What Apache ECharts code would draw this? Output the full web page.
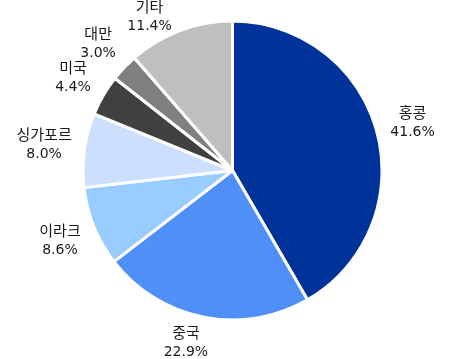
<!DOCTYPE html>
<html><head><meta charset="utf-8">
<script src="https://cdn.jsdelivr.net/npm/echarts@6/dist/echarts.min.js"></script>
<style>html,body{margin:0;padding:0;background:#fff}#c{width:449px;height:359px}</style>
</head><body><div id="c"></div>
<script>
const categories = ['홍콩','중국','이라크','싱가포르','미국','대만','기타'];
const values = [41.6, 22.9, 8.6, 8.0, 4.4, 3.0, 11.4];
const colors = ['#003399','#4f8ff7','#99ccff','#cddfff','#404040','#808080','#bfbfbf'];

const W = 449, H = 359;
const CX = 232.5, CY = 170.5, R = 149.5, GAP = 11;
const total = values.reduce((a,b)=>a+b,0);
function midAngle(i){
  let s = 0; for (let k=0;k<i;k++) s += values[k];
  return (s + values[i]/2) / total * Math.PI * 2; // clockwise from top
}
function placeLabel(params){
  const i = params.dataIndex;
  const w = params.labelRect.width, h = params.labelRect.height;
  const t = midAngle(i);
  const sx = Math.sin(t), cy = -Math.cos(t);
  const ext = Math.abs(sx)*w/2 + Math.abs(cy)*h/2;
  const d = R + GAP + ext;
  let x = CX + d*sx, y = CY + d*cy;
  const minY = h/2 - 1, maxY = H - h/2 + 1;
  if (y < minY || y > maxY) {
    const ty = y < minY ? minY : maxY;
    const dy = ty - CY;
    const slideDx = Math.sign(sx) * Math.sqrt(Math.max(0, d*d - dy*dy));
    x = (x + CX + slideDx) / 2;
    y = ty;
  }
  return {x: x, y: y, align:'center', verticalAlign:'middle'};
}

const chart = echarts.init(document.getElementById('c'), null, {renderer:'canvas'});
chart.setOption({
  animation:false,
  series:[{
    type:'pie',
    center:[CX,CY],
    radius:[0,R],
    startAngle:90,
    clockwise:true,
    avoidLabelOverlap:false,
    itemStyle:{borderColor:'#fff',borderWidth:3},
    label:{
      show:true,position:'outside',
      formatter:p=>'{n|'+p.name+'}\n{v|'+p.value.toFixed(1)+'%}',
      color:'#1a1a1a',align:'center',
      rich:{
        n:{fontFamily:'"Noto Sans CJK KR", sans-serif',fontSize:15,lineHeight:20,color:'#1a1a1a',align:'center'},
        v:{fontFamily:'"DejaVu Sans", sans-serif',fontSize:14,lineHeight:20,color:'#1a1a1a',align:'center'}
      }
    },
    labelLine:{show:false},
    labelLayout: placeLabel,
    data:categories.map((n,i)=>({name:n,value:values[i],itemStyle:{color:colors[i]}}))
  }]
});
</script></body></html>
